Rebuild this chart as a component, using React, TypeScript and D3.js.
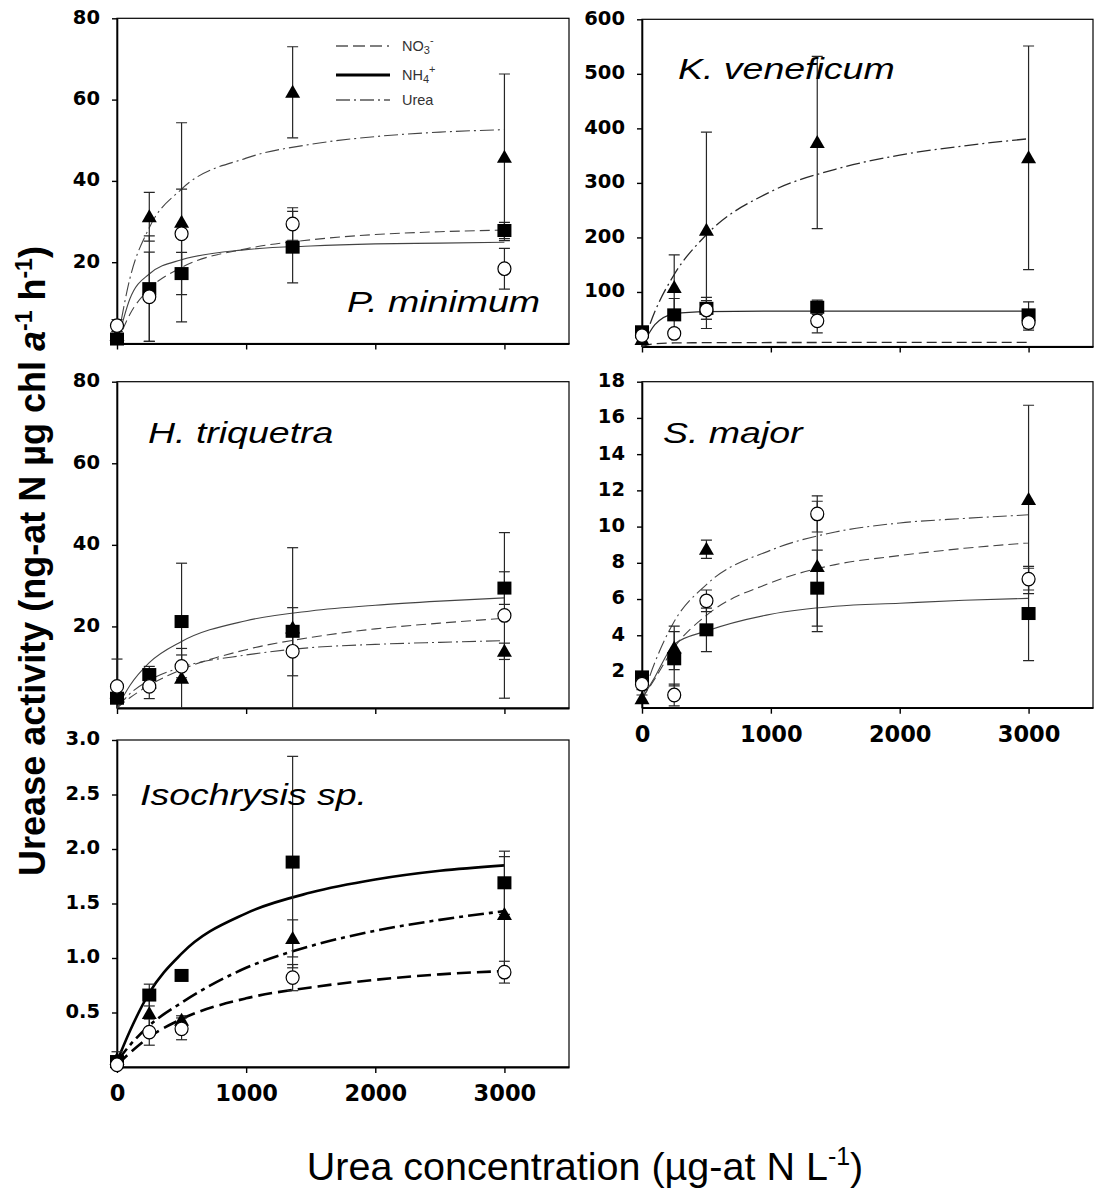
import * as d3 from 'd3';
import { useEffect, useRef } from 'react';

const WIDTH = 1095;
const HEIGHT = 1194;

// urea additions (x) and the x positions the fitted curves were read at
const concentrations = [0, 250, 500, 1360, 3000];
const fitConcentrations = [0, 100, 250, 500, 1000, 1500, 2000, 2500, 3000];
const xTicks = [0, 1000, 2000, 3000];

// P. minimum
const pminCircle = [4.4, 11.5, 27, 29.4, 18.4];
const pminCircleErr = [1.5, 11, 11, 4, 5];
const pminSquare = [1.1, 13.5, 17.2, 23.7, 27.8];
const pminSquareErr = [0.5, 13, 5.2, 8.8, 2];
const pminTriangle = [2, 31.2, 29.8, 61.8, 45.8];
const pminTriangleErr = [1, 6, 24.5, 11.2, 20.5];
const pminDashFit = [0, 7.2, 13.4, 18.7, 23.3, 25.5, 26.8, 27.5, 27.9];
const pminSolidFit = [0, 11, 17.1, 20.6, 23.1, 24, 24.5, 24.7, 24.9];
const pminDashDotFit = [0, 16, 28.5, 38, 45.6, 49, 50.9, 52, 52.6];

// K. veneficum
const kvenCircle = [20, 24, 67, 47, 44];
const kvenCircleErr = [5, 8, 17, 22, 14];
const kvenSquare = [27, 58, 70, 72, 58];
const kvenSquareErr = [5, 30, 20, 13, 24];
const kvenTriangle = [13, 108, 213, 374, 346];
const kvenTriangleErr = [5, 60, 180, 158, 205];
const kvenDashFit = [0, 5, 6.5, 7, 7.3, 7.4, 7.5, 7.5, 7.5];
const kvenSolidFit = [0, 40, 60, 64, 65, 65, 65, 65, 65];
const kvenDashDotFit = [0, 64, 132, 205, 284, 325, 351, 368, 381];

// H. triquetra
const htriCircle = [5.3, 5.3, 10.2, 13.9, 22.7];
const htriCircleErr = [6.7, 3, 2.8, 6, 20.3];
const htriSquare = [2.4, 8.2, 21.2, 18.8, 29.4];
const htriSquareErr = [1, 2, 14.3, 20.5, 4];
const htriTriangle = [3.7, 6.1, 7.3, 19.6, 13.9];
const htriTriangleErr = [1, 1, 7.3, 5, 2];
const htriDashFit = [0, 2.5, 5.6, 9.4, 14.3, 17.3, 19.4, 20.8, 22];
const htriSolidFit = [0, 5.5, 11.1, 16.3, 21.4, 23.8, 25.2, 26.2, 27];
const htriDashDotFit = [0, 3.5, 6.8, 10, 13, 14.8, 15.6, 16.1, 16.5];

// S. major
const smajCircle = [1.3, 0.7, 5.9, 10.7, 7.1];
const smajCircleErr = [0.3, 0.6, 0.6, 1, 0.6];
const smajSquare = [1.7, 2.7, 4.3, 6.6, 5.2];
const smajSquareErr = [0.3, 1.5, 1.2, 2.1, 2.6];
const smajTriangle = [0.5, 3.3, 8.75, 7.8, 11.5];
const smajTriangleErr = [0.2, 1.2, 0.5, 3.6, 5.2];
const smajDashFit = [0.5, 1.6, 3.33, 5.1, 6.9, 7.9, 8.4, 8.8, 9.1];
const smajSolidFit = [0.5, 1.7, 3.5, 4.23, 5.16, 5.6, 5.77, 5.93, 6.04];
const smajDashDotFit = [0.5, 2.5, 4.76, 6.8, 8.7, 9.7, 10.2, 10.45, 10.65];

// Isochrysis sp.
const isoCircle = [0.02, 0.32, 0.35, 0.82, 0.87];
const isoCircleErr = [0.02, 0.12, 0.1, 0.12, 0.1];
const isoSquare = [0.05, 0.66, 0.84, 1.88, 1.69];
const isoSquareErr = [0.05, 0.1, 0, 0.97, 0.29];
const isoTriangle = [0.07, 0.49, 0.43, 1.18, 1.4];
const isoTriangleErr = [0.07, 0.15, 0.04, 0.17, 0.53];
const isoDashFit = [0.02, 0.13, 0.275, 0.44, 0.63, 0.73, 0.8, 0.85, 0.88];
const isoSolidFit = [0.05, 0.33, 0.68, 1.04, 1.41, 1.6, 1.72, 1.8, 1.85];
const isoDashDotFit = [0.05, 0.2, 0.38, 0.59, 0.91, 1.11, 1.25, 1.35, 1.43];

type Panel = {
    name: string;
    left: number; right: number; top: number; bottom: number;
    yMax: number;
    yTicks: number[];
    yFormat: (v: number) => string;
    xLabels: boolean;
    labelX: number; labelY: number;
    circle: number[]; circleErr: number[];
    square: number[]; squareErr: number[];
    triangle: number[]; triangleErr: number[];
    dashFit: number[]; solidFit: number[]; dashDotFit: number[];
    lineColor: string; lineWidth: number; dash: string; dashDot: string;
};

const intFmt = d3.format('d');
const decFmt = d3.format('.1f');

const panels: Panel[] = [
    {
        name: 'P. minimum', left: 117, right: 569, top: 18.3, bottom: 343.5,
        yMax: 80, yTicks: [20, 40, 60, 80], yFormat: intFmt, xLabels: false, labelX: 347, labelY: 312,
        circle: pminCircle, circleErr: pminCircleErr, square: pminSquare, squareErr: pminSquareErr,
        triangle: pminTriangle, triangleErr: pminTriangleErr,
        dashFit: pminDashFit, solidFit: pminSolidFit, dashDotFit: pminDashDotFit,
        lineColor: '#444', lineWidth: 1.1, dash: '10,5', dashDot: '14,4,2,4',
    },
    {
        name: 'K. veneficum', left: 642, right: 1093, top: 19.3, bottom: 346.5,
        yMax: 600, yTicks: [100, 200, 300, 400, 500, 600], yFormat: intFmt, xLabels: false, labelX: 678, labelY: 79,
        circle: kvenCircle, circleErr: kvenCircleErr, square: kvenSquare, squareErr: kvenSquareErr,
        triangle: kvenTriangle, triangleErr: kvenTriangleErr,
        dashFit: kvenDashFit, solidFit: kvenSolidFit, dashDotFit: kvenDashDotFit,
        lineColor: '#2a2a2a', lineWidth: 1.3, dash: '10,5', dashDot: '14,4,2,4',
    },
    {
        name: 'H. triquetra', left: 117, right: 569, top: 381.7, bottom: 708,
        yMax: 80, yTicks: [20, 40, 60, 80], yFormat: intFmt, xLabels: false, labelX: 148, labelY: 443,
        circle: htriCircle, circleErr: htriCircleErr, square: htriSquare, squareErr: htriSquareErr,
        triangle: htriTriangle, triangleErr: htriTriangleErr,
        dashFit: htriDashFit, solidFit: htriSolidFit, dashDotFit: htriDashDotFit,
        lineColor: '#444', lineWidth: 1.1, dash: '10,5', dashDot: '14,4,2,4',
    },
    {
        name: 'S. major', left: 642, right: 1093, top: 381.7, bottom: 707.7,
        yMax: 18, yTicks: [2, 4, 6, 8, 10, 12, 14, 16, 18], yFormat: intFmt, xLabels: true, labelX: 663, labelY: 443,
        circle: smajCircle, circleErr: smajCircleErr, square: smajSquare, squareErr: smajSquareErr,
        triangle: smajTriangle, triangleErr: smajTriangleErr,
        dashFit: smajDashFit, solidFit: smajSolidFit, dashDotFit: smajDashDotFit,
        lineColor: '#444', lineWidth: 1.1, dash: '10,5', dashDot: '14,4,2,4',
    },
    {
        name: 'Isochrysis sp.', left: 117, right: 569, top: 740, bottom: 1067,
        yMax: 3, yTicks: [0.5, 1, 1.5, 2, 2.5, 3], yFormat: decFmt, xLabels: true, labelX: 140, labelY: 805,
        circle: isoCircle, circleErr: isoCircleErr, square: isoSquare, squareErr: isoSquareErr,
        triangle: isoTriangle, triangleErr: isoTriangleErr,
        dashFit: isoDashFit, solidFit: isoSolidFit, dashDotFit: isoDashDotFit,
        lineColor: '#000', lineWidth: 2.6, dash: '14,6', dashDot: '16,5,4,5',
    },
];

const TICK_FONT = '"DejaVu Sans", sans-serif';
const TEXT_FONT = '"Liberation Sans", Arial, sans-serif';

function drawPanel(svg: any, defs: any, p: Panel, i: number) {
    const x = d3.scaleLinear().domain([0, 3500]).range([p.left, p.right]);
    const y = d3.scaleLinear().domain([0, p.yMax]).range([p.bottom, p.top]);
    const clipId = `panel-clip-${i}`;

    defs.append('clipPath').attr('id', clipId)
        .append('rect')
        .attr('x', p.left - 10).attr('y', p.top)
        .attr('width', p.right - p.left + 10).attr('height', p.bottom - p.top + 10);

    const g = svg.append('g');

    g.append('rect')
        .attr('x', p.left).attr('y', p.top)
        .attr('width', p.right - p.left).attr('height', p.bottom - p.top)
        .attr('fill', 'none').attr('stroke', '#000').attr('stroke-width', 1.2);

    const yAxis = g.append('g')
        .attr('transform', `translate(${p.left},0)`)
        .call(d3.axisLeft(y).tickValues(p.yTicks).tickSize(5).tickSizeOuter(0).tickPadding(12).tickFormat(p.yFormat as any));
    yAxis.select('.domain').attr('stroke-width', 1.6);
    yAxis.selectAll('line').attr('stroke-width', 1.4);
    yAxis.selectAll('text')
        .attr('font-family', TICK_FONT).attr('font-weight', 'bold')
        .attr('font-size', 19.5).attr('dy', '0.25em').attr('fill', '#000');

    const xAxis = g.append('g')
        .attr('transform', `translate(0,${p.bottom})`)
        .call(d3.axisBottom(x).tickValues(xTicks).tickSize(6).tickSizeOuter(0).tickPadding(12)
            .tickFormat((d: any) => (p.xLabels ? intFmt(d) : '')));
    xAxis.select('.domain').attr('stroke-width', 1.8);
    xAxis.selectAll('line').attr('stroke-width', 1.4);
    xAxis.selectAll('text')
        .attr('font-family', TICK_FONT).attr('font-weight', 'bold')
        .attr('font-size', 22.5).attr('fill', '#000');

    // fitted curves
    const line = d3.line<number>()
        .x((_, k) => x(fitConcentrations[k]))
        .y((d) => y(d))
        .curve(d3.curveMonotoneX);

    const plot = g.append('g').attr('clip-path', `url(#${clipId})`);
    const fits = [
        { values: p.dashFit, dash: p.dash },
        { values: p.solidFit, dash: null },
        { values: p.dashDotFit, dash: p.dashDot },
    ];
    fits.forEach((f) => {
        plot.append('path')
            .attr('d', line(f.values))
            .attr('fill', 'none')
            .attr('stroke', p.lineColor)
            .attr('stroke-width', p.lineWidth)
            .attr('stroke-dasharray', f.dash);
    });

    // error bars
    const series = [
        { values: p.square, err: p.squareErr, shape: 'square' },
        { values: p.triangle, err: p.triangleErr, shape: 'triangle' },
        { values: p.circle, err: p.circleErr, shape: 'circle' },
    ];
    const cap = 5.5;
    series.forEach((s) => {
        s.values.forEach((v, k) => {
            const e = s.err[k];
            if (!e) return;
            const cx = x(concentrations[k]);
            const lo = Math.max(v - e, 0);
            const hi = Math.min(v + e, p.yMax);
            const eg = plot.append('g').attr('stroke', '#262626').attr('stroke-width', 1.2);
            eg.append('line').attr('x1', cx).attr('x2', cx).attr('y1', y(lo)).attr('y2', y(hi));
            if (v - e > 0) {
                eg.append('line').attr('x1', cx - cap).attr('x2', cx + cap).attr('y1', y(lo)).attr('y2', y(lo));
            }
            if (v + e < p.yMax) {
                eg.append('line').attr('x1', cx - cap).attr('x2', cx + cap).attr('y1', y(hi)).attr('y2', y(hi));
            }
        });
    });

    // markers
    series.forEach((s) => {
        s.values.forEach((v, k) => {
            const cx = x(concentrations[k]);
            const cy = y(v);
            if (s.shape === 'square') {
                g.append('rect')
                    .attr('x', cx - 7).attr('y', cy - 6.5)
                    .attr('width', 14).attr('height', 13)
                    .attr('fill', '#000');
            } else if (s.shape === 'triangle') {
                g.append('path')
                    .attr('transform', `translate(${cx},${cy})`)
                    .attr('d', 'M0,-7.5L7.5,5.5L-7.5,5.5Z')
                    .attr('fill', '#000');
            } else {
                g.append('ellipse')
                    .attr('cx', cx).attr('cy', cy)
                    .attr('rx', 6.5).attr('ry', 6.8)
                    .attr('fill', '#fff').attr('stroke', '#000').attr('stroke-width', 1.2);
            }
        });
    });

    g.append('text')
        .attr('transform', `translate(${p.labelX},${p.labelY}) scale(1.25,1)`)
        .attr('font-family', TEXT_FONT)
        .attr('font-style', 'italic')
        .attr('font-size', 30)
        .attr('fill', '#000')
        .text(p.name);
}

function drawLegend(svg: any) {
    const lg = svg.append('g').attr('font-family', TEXT_FONT).attr('font-size', 14.5).attr('fill', '#333');
    const rows = [
        { y: 46, dash: '12,5,12,5,12,5,2', width: 1.1, main: 'NO', sub: '3', sup: '-' },
        { y: 75, dash: null, width: 2.8, main: 'NH', sub: '4', sup: '+' },
        { y: 100, dash: '14,4,2,4', width: 1.1, main: 'Urea', sub: '', sup: '' },
    ];
    rows.forEach((r) => {
        lg.append('line')
            .attr('x1', 336).attr('x2', 390)
            .attr('y1', r.y).attr('y2', r.y)
            .attr('stroke', '#000')
            .attr('stroke-width', r.width)
            .attr('stroke-dasharray', r.dash);
        const t = lg.append('text').attr('x', 402).attr('y', r.y + 5);
        t.append('tspan').text(r.main);
        if (r.sub) {
            t.append('tspan').attr('font-size', 11).attr('dy', 3).text(r.sub);
            t.append('tspan').attr('font-size', 11).attr('dy', -10).text(r.sup);
        }
    });
}

function drawTitles(svg: any) {
    const yt = svg.append('text')
        .attr('transform', 'translate(45,561) rotate(-90)')
        .attr('text-anchor', 'middle')
        .attr('font-family', TEXT_FONT)
        .attr('font-weight', 'bold')
        .attr('font-size', 36)
        .attr('fill', '#000');
    yt.append('tspan').text('Urease activity (ng-at N µg chl ');
    yt.append('tspan').attr('font-style', 'italic').text('a');
    yt.append('tspan').attr('font-size', 23).attr('dy', -13).text('-1');
    yt.append('tspan').attr('dy', 13).text(' h');
    yt.append('tspan').attr('font-size', 23).attr('dy', -13).text('-1');
    yt.append('tspan').attr('dy', 13).text(')');

    const xt = svg.append('text')
        .attr('x', 585).attr('y', 1180)
        .attr('text-anchor', 'middle')
        .attr('font-family', TEXT_FONT)
        .attr('font-size', 39.5)
        .attr('fill', '#000');
    xt.append('tspan').text('Urea concentration (µg-at N L');
    xt.append('tspan').attr('font-size', 25).attr('dy', -15).text('-1');
    xt.append('tspan').attr('dy', 15).text(')');
}

export default function App() {
    const svgRef = useRef<SVGSVGElement>(null);

    useEffect(() => {
        const svg = d3.select(svgRef.current);
        svg.selectAll('*').remove();
        svg.append('rect').attr('width', WIDTH).attr('height', HEIGHT).attr('fill', '#fff');
        const defs = svg.append('defs');
        panels.forEach((p, i) => drawPanel(svg, defs, p, i));
        drawLegend(svg);
        drawTitles(svg);
    }, []);

    return (
        <svg
            ref={svgRef}
            width={WIDTH}
            height={HEIGHT}
            style={{ position: 'absolute', left: 0, top: 0, display: 'block' }}
        />
    );
}
